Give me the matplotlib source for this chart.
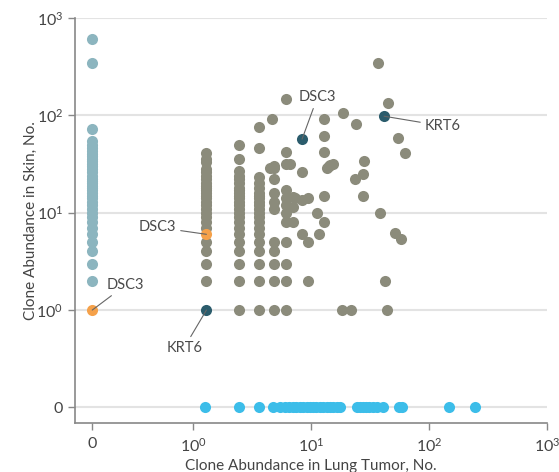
import matplotlib
matplotlib.use("Agg")
import matplotlib.pyplot as plt

plt.rcParams['font.family'] = ['Lato', 'DejaVu Sans']
plt.rcParams['mathtext.fontset'] = 'custom'
plt.rcParams['mathtext.rm'] = 'Lato'

# zero values are drawn at these positions on the log axes
X_ZERO = 0.14
Y_ZERO = 0.1

# clones found only in skin (lung = 0)
skin_only_y = [2, 3, 4, 5, 6, 7, 8, 9, 10, 11, 12, 13, 14, 15, 16, 17, 18, 19, 20, 21,
               22, 24, 26, 28, 30, 32, 34, 36, 38, 40, 43, 46, 50, 55, 72, 345, 610]

# clones found only in lung tumor (skin = 0)
lung_only_x = [1.26, 2.45, 3.6, 4.8, 5.5, 6.0, 6.5, 7.0, 7.5, 8.1, 8.6, 9.2, 9.8, 10.4,
               11.1, 11.9, 12.7, 13.6, 14.5, 15.4, 16.5, 17.6, 24.4, 26, 27.5, 29.5,
               31.3, 33.5, 35.9, 40.4, 56, 59, 147, 245]

# clones shared by both
shared_x = ([1.3] * 25
            + [2.45] * 24
            + [3.65] * 21
            + [4.85] * 11 + [4.5, 4.7]
            + [6.1] * 12
            + [6.6, 7.0, 7.0, 7.0, 7.3, 8.4, 8.4, 8.4, 9.4, 9.4, 9.4, 11.2, 11.7,
               12.9, 12.9, 12.9, 12.9, 12.9, 13.7, 14.2, 14.5, 15.4, 18.3, 18.6, 21.8,
               23.5, 24, 27.5, 27.5, 28, 37, 38.5, 42, 44, 45, 51.5, 55, 57.8, 63])
shared_y = ([2, 3, 4, 5, 7, 8, 9, 10, 11, 12, 13, 14, 15, 16, 17, 18, 19, 20, 22, 24,
             26, 28, 33, 36, 41]
            + [1, 2, 3, 4, 5, 6, 7, 8, 9, 10, 11, 12, 13, 14, 15, 16, 17, 18, 20, 22,
               24, 27, 36, 50]
            + [1, 2, 3, 4, 5, 6, 7, 8, 9, 10, 11, 12, 13, 14, 15, 16, 18, 20, 23, 46, 76]
            + [1, 2, 3, 4, 5, 11, 13, 16, 22, 29, 30] + [29, 92]
            + [1, 2, 3, 5, 8, 10, 12, 14, 17, 32, 42, 147]
            + [32, 8, 11.5, 14.5, 14, 6, 13.5, 26, 2, 5, 14, 10, 6,
               8, 15, 42, 62, 92, 29, 30, 31, 32, 1, 106, 1,
               22, 82, 25, 15, 34, 345, 10, 2, 1, 134, 6.2, 59, 5.4, 41])

# highlighted clones
dsc3_x = [X_ZERO, 1.3]
dsc3_y = [1, 6]
dark_x = [1.3, 8.4, 41.6]
dark_y = [1, 57, 98]

labels = [("DSC3", X_ZERO, 1, (24, 18)),
          ("DSC3", 1.3, 6, (-35, 5)),
          ("KRT6", 1.3, 1, (-16, -27)),
          ("DSC3", 8.4, 57, (11, 30)),
          ("KRT6", 41.6, 98, (42, -7))]

fig = plt.figure(figsize=(5.59, 4.72), dpi=100)
ax = fig.add_axes([75 / 559, 1 - 423 / 472, 472 / 559, 405 / 472])
ax.set_xscale('log')
ax.set_yscale('log')
ax.set_xlim(0.1, 1000)
ax.set_ylim(10 ** -1.16, 1000)

for yv in [Y_ZERO, 1, 10, 100, 1000]:
    ax.axhline(yv, color='#e3e3e3', lw=1.5, zorder=0)

ms = 64
ax.scatter(shared_x, shared_y, s=ms, color='#8b8b7b', lw=0, zorder=2)
ax.scatter([X_ZERO] * len(skin_only_y), skin_only_y, s=ms, color='#8cb5bf', lw=0, zorder=2)
ax.scatter(lung_only_x, [Y_ZERO] * len(lung_only_x), s=ms, color='#3cbde9', lw=0, zorder=2)
ax.scatter(dsc3_x, dsc3_y, s=ms, color='#f5a14a', lw=0, zorder=3)
ax.scatter(dark_x, dark_y, s=ms, color='#2b5c6c', lw=0, zorder=3)

for txt, px, py, off in labels:
    ax.annotate(txt, (px, py), xytext=off, textcoords='offset points',
                ha='center', va='center', fontsize=10.5, color='#4a4a4a',
                arrowprops=dict(arrowstyle='-', color='#666666', lw=0.8,
                                shrinkA=1, shrinkB=0))

ax.set_xticks([X_ZERO, 1, 10, 100, 1000])
ax.set_xticklabels(['0', r'$\mathregular{10^{0}}$', r'$\mathregular{10^{1}}$',
                    r'$\mathregular{10^{2}}$', r'$\mathregular{10^{3}}$'])
ax.set_yticks([Y_ZERO, 1, 10, 100, 1000])
ax.set_yticklabels(['0', r'$\mathregular{10^{0}}$', r'$\mathregular{10^{1}}$',
                    r'$\mathregular{10^{2}}$', r'$\mathregular{10^{3}}$'])
ax.minorticks_off()
ax.tick_params(axis='both', colors='#888888', labelcolor='#444444', labelsize=11.5,
               length=5, width=1)
ax.tick_params(axis='x', pad=5)

for side in ['top', 'right']:
    ax.spines[side].set_visible(False)
for side in ['left', 'bottom']:
    ax.spines[side].set_color('#888888')
    ax.spines[side].set_linewidth(1.2)

ax.set_xlabel('Clone Abundance in Lung Tumor, No.', fontsize=11, color='#444444', labelpad=3)
ax.set_ylabel('Clone Abundance in Skin, No.', fontsize=11, color='#444444', labelpad=-1)

fig.savefig('out.png', dpi=100)
